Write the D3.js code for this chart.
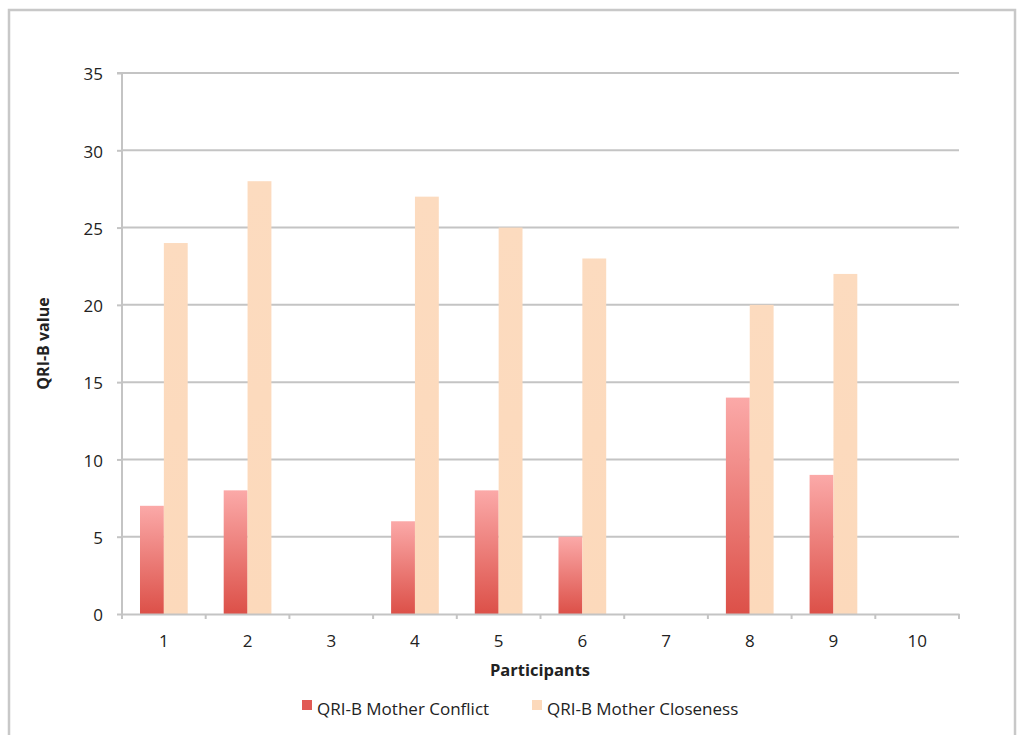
<!DOCTYPE html>
<html><head><meta charset="utf-8">
<script src="https://cdn.jsdelivr.net/npm/d3@7"></script>
<style>
html,body{margin:0;padding:0;background:#fff;}
text{font-family:"Open Sans",sans-serif;fill:#222;}
</style></head>
<body><svg id="c" width="1018" height="735"></svg>
<script>
const participants = ["1","2","3","4","5","6","7","8","9","10"];
const conflict   = [7, 8, null, 6, 8, 5, null, 14, 9, null];
const closeness  = [24, 28, null, 27, 25, 23, null, 20, 22, null];
const seriesNames = ["QRI-B Mother Conflict", "QRI-B Mother Closeness"];
const yTicks = [0, 5, 10, 15, 20, 25, 30, 35];

const svg = d3.select("#c");
const FONT = "'Open Sans', sans-serif";
const FS = 17;
const m = {left:122, right:959, top:73, bottom:614};

// outer frame
svg.append("rect").attr("x",9).attr("y",10).attr("width",1006).attr("height",740)
  .attr("fill","none").attr("stroke","#c8c8c8").attr("stroke-width",2.5);

const defs = svg.append("defs");
const g1 = defs.append("linearGradient").attr("id","gConf").attr("x1",0).attr("y1",0).attr("x2",0).attr("y2",1);
g1.append("stop").attr("offset","0%").attr("stop-color","#fba9a8");
g1.append("stop").attr("offset","100%").attr("stop-color","#dc5048");
const g2 = defs.append("linearGradient").attr("id","gClose").attr("x1",0).attr("y1",0).attr("x2",0).attr("y2",1);
g2.append("stop").attr("offset","0%").attr("stop-color","#fcdbbf");
g2.append("stop").attr("offset","100%").attr("stop-color","#fcd9bb");

const x = d3.scaleBand().domain(participants).range([m.left, m.right]).paddingInner(0.43).paddingOuter(0.215);
const x2 = d3.scaleBand().domain([0,1]).range([0, x.bandwidth()]);
const y = d3.scaleLinear().domain([0,35]).range([m.bottom, m.top]);

// gridlines
svg.append("g").selectAll("line").data(yTicks.filter(d=>d>0)).join("line")
  .attr("x1",m.left).attr("x2",m.right).attr("y1",d=>y(d)).attr("y2",d=>y(d))
  .attr("stroke","#c4c4c4").attr("stroke-width",2);

// bars
const data = [conflict, closeness];
const fills = ["url(#gConf)","url(#gClose)"];
data.forEach((arr,si)=>{
  svg.append("g").selectAll("rect").data(participants.map((p,i)=>({p,v:arr[i]})).filter(d=>d.v!=null))
    .join("rect")
    .attr("x",d=>x(d.p)+x2(si)).attr("width",x2.bandwidth())
    .attr("y",d=>y(d.v)).attr("height",d=>y(0)-y(d.v))
    .attr("fill",fills[si]);
});

// y axis
const ya = svg.append("g").attr("transform",`translate(${m.left},0)`)
  .call(d3.axisLeft(y).tickValues(yTicks).tickSize(5).tickPadding(14));
ya.select(".domain").attr("stroke","#c4c4c4").attr("stroke-width",2).attr("d",`M-5,${m.top}H0V${m.bottom}`);
ya.selectAll(".tick line").attr("stroke","#c4c4c4").attr("stroke-width",2);
ya.selectAll(".tick text").attr("font-size",FS).attr("fill","#222").attr("font-family",FONT).attr("dy","0.4em");

// x axis
const xa = svg.append("g").attr("transform",`translate(0,${m.bottom})`)
  .call(d3.axisBottom(x).tickSize(0).tickPadding(21));
xa.select(".domain").attr("stroke","#c4c4c4").attr("stroke-width",2);
xa.selectAll(".tick text").attr("font-size",FS).attr("fill","#222").attr("font-family",FONT);
const bounds = participants.map(p=>x(p)-x.step()*x.paddingInner()/2).concat([m.right]);
bounds[0] = m.left;
svg.append("g").selectAll("line").data(bounds).join("line")
  .attr("x1",d=>d).attr("x2",d=>d).attr("y1",m.bottom).attr("y2",m.bottom+5)
  .attr("stroke","#c4c4c4").attr("stroke-width",2);

// axis titles
svg.append("text").attr("x",540).attr("y",676).attr("text-anchor","middle")
  .attr("font-size",16.5).attr("font-weight","bold").text("Participants");
svg.append("text").attr("transform",`translate(49,${(m.top+m.bottom)/2}) rotate(-90)`)
  .attr("text-anchor","middle").attr("font-size",16).attr("font-weight","bold").text("QRI-B value");

// legend
const legX = [302, 532];
const legCol = ["#e15a55","#fcd9bb"];
seriesNames.forEach((n,i)=>{
  svg.append("rect").attr("x",legX[i]).attr("y",700).attr("width",10).attr("height",10).attr("fill",legCol[i]);
  svg.append("text").attr("x",legX[i]+15).attr("y",715).attr("font-size",FS).text(n);
});
</script></body></html>
